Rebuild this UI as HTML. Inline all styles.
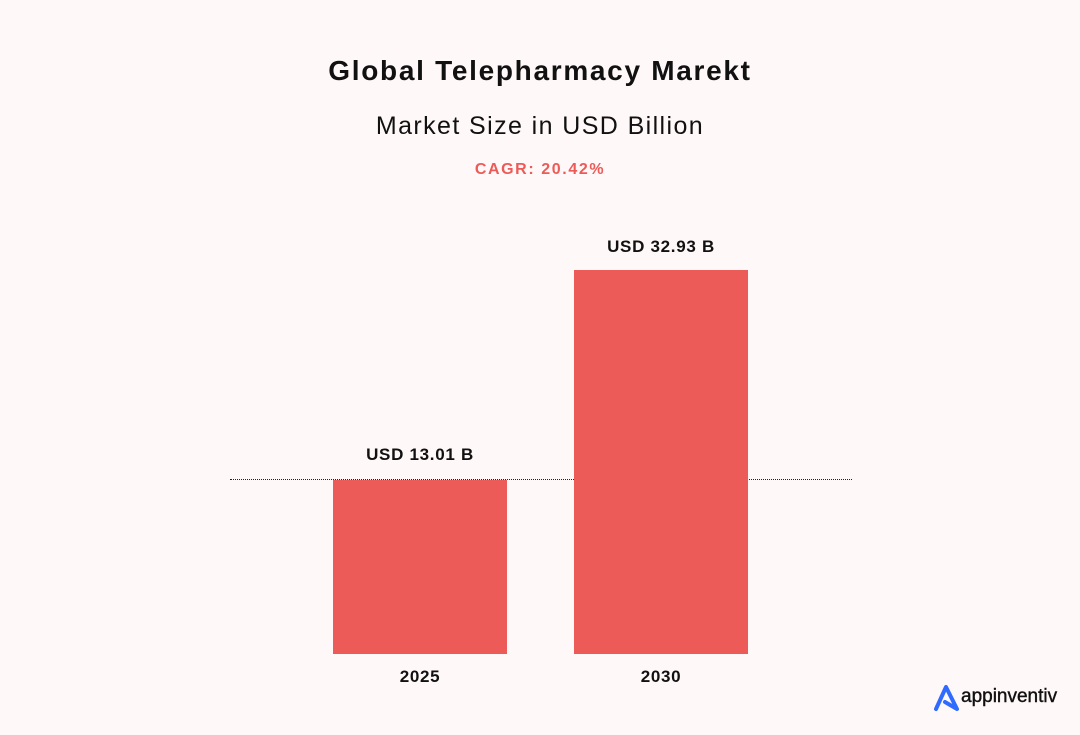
<!DOCTYPE html>
<html><head><meta charset="utf-8"><style>
body{margin:0;width:1080px;height:735px;background:#fff8f8;font-family:"Liberation Sans",sans-serif;position:relative;overflow:hidden;color:#111}
.t{position:absolute;left:0;width:1080px;text-align:center}
.a{position:absolute;text-align:center}
</style></head><body>
<div class="t" style="top:55px;font-size:28px;font-weight:bold;letter-spacing:1.7px">Global Telepharmacy Marekt</div>
<div class="t" style="top:112px;font-size:25px;letter-spacing:1.4px">Market Size in USD Billion</div>
<div class="t" style="top:161px;font-size:16px;font-weight:bold;color:#ec5b57;letter-spacing:1.6px">CAGR: 20.42%</div>
<div style="position:absolute;left:230px;top:479px;width:622px;border-top:1px dotted #222"></div>
<div style="position:absolute;left:333px;top:480px;width:174px;height:174px;background:#ec5b57"></div>
<div style="position:absolute;left:574px;top:270px;width:174px;height:384px;background:#ec5b57"></div>
<div class="a" style="left:333px;width:174px;top:445px;font-size:17px;font-weight:bold;letter-spacing:0.7px">USD 13.01 B</div>
<div class="a" style="left:574px;width:174px;top:237px;font-size:17px;font-weight:bold;letter-spacing:0.7px">USD 32.93 B</div>
<div class="a" style="left:333px;width:174px;top:667px;font-size:17px;font-weight:bold;letter-spacing:0.7px">2025</div>
<div class="a" style="left:574px;width:174px;top:667px;font-size:17px;font-weight:bold;letter-spacing:0.7px">2030</div>
<svg style="position:absolute;left:933px;top:684px" width="28" height="28" viewBox="0 0 28 28"><path d="M3 25 L13 3 L24 25 L12 18" fill="none" stroke="#2f6bff" stroke-width="4" stroke-linejoin="round" stroke-linecap="round"/></svg>
<div style="position:absolute;left:961px;top:686px;font-size:19px;color:#111;-webkit-text-stroke:0.4px #111">appinventiv</div>
</body></html>
